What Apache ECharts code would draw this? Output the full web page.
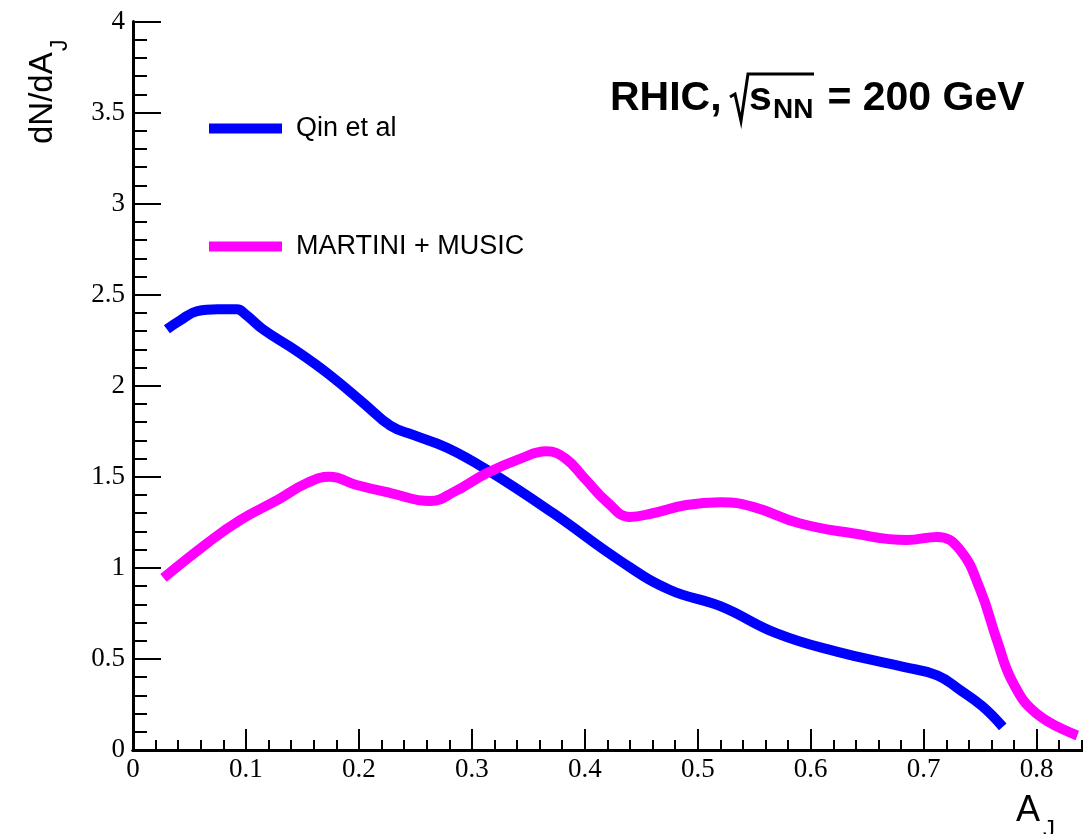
<!DOCTYPE html>
<html>
<head>
<meta charset="utf-8">
<script src="https://cdn.jsdelivr.net/npm/echarts@6/dist/echarts.min.js"></script>
<style>
  html, body { margin: 0; padding: 0; background: #fff; }
  #chart { width: 1083px; height: 834px; }
</style>
</head>
<body>
<div id="chart"></div>
<script>
// Dijet asymmetry distributions, RHIC 200 GeV
const qinX = [0.030, 0.042, 0.057, 0.075, 0.092, 0.100, 0.115, 0.145, 0.174, 0.204, 0.228, 0.248, 0.278, 0.313, 0.372, 0.431, 0.475, 0.520, 0.570, 0.623, 0.682, 0.712, 0.732, 0.752, 0.770];
const qinY = [2.31, 2.36, 2.41, 2.42, 2.42, 2.39, 2.31, 2.19, 2.06, 1.905, 1.78, 1.73, 1.66, 1.54, 1.30, 1.04, 0.88, 0.79, 0.64, 0.54, 0.456, 0.41, 0.33, 0.24, 0.127];

const martiniX = [0.027, 0.066, 0.095, 0.128, 0.154, 0.174, 0.198, 0.228, 0.263, 0.285, 0.313, 0.343, 0.366, 0.383, 0.400, 0.420, 0.440, 0.460, 0.490, 0.520, 0.549, 0.590, 0.637, 0.685, 0.712, 0.732, 0.750, 0.765, 0.779, 0.800, 0.836];
const martiniY = [0.945, 1.137, 1.263, 1.373, 1.466, 1.50, 1.455, 1.411, 1.367, 1.42, 1.52, 1.60, 1.64, 1.60, 1.49, 1.36, 1.28, 1.30, 1.345, 1.36, 1.335, 1.245, 1.19, 1.153, 1.17, 1.10, 0.88, 0.60, 0.37, 0.20, 0.08];

const seriesNames = ['Qin et al', 'MARTINI + MUSIC'];
const xTickLabels = ['0', '0.1', '0.2', '0.3', '0.4', '0.5', '0.6', '0.7', '0.8'];
const yTickLabels = ['0', '0.5', '1', '1.5', '2', '2.5', '3', '3.5', '4'];

const pairs = (xs, ys) => xs.map((x, i) => [x, ys[i]]);

const SERIF = '"Liberation Serif", "DejaVu Serif", serif';
const SANS = '"Liberation Sans", Arial, sans-serif';

const chart = echarts.init(document.getElementById('chart'), null, { renderer: 'canvas' });

const option = {
  backgroundColor: '#ffffff',
  animation: false,
  grid: { left: 133, top: 21.5, width: 1016.6, height: 728.5, containLabel: false, outerBoundsMode: 'none' },
  xAxis: [
    {
      type: 'value', min: 0, max: 0.9, interval: 0.1,
      axisLine: { show: true, onZero: false, lineStyle: { color: '#000', width: 3 } },
      axisTick: { show: true, inside: true, length: 21, lineStyle: { color: '#000', width: 2 } },
      minorTick: { show: true, splitNumber: 5, length: 10, lineStyle: { color: '#000', width: 2 } },
      splitLine: { show: false },
      axisLabel: {
        color: '#000', fontFamily: SERIF, fontSize: 27, margin: 6,
        formatter: v => {
          const k = Math.round(v * 10);
          return Math.abs(v * 10 - k) < 1e-6 && k < xTickLabels.length ? xTickLabels[k] : '';
        }
      }
    },
    {
      type: 'value', min: 0, max: 0.9, position: 'top',
      axisLine: { show: true, lineStyle: { color: '#000', width: 3 } },
      axisTick: { show: false }, axisLabel: { show: false }, splitLine: { show: false }
    }
  ],
  yAxis: {
    type: 'value', min: 0, max: 4, interval: 0.5,
    axisLine: { show: true, lineStyle: { color: '#000', width: 3 } },
    axisTick: { show: true, inside: true, length: 28, lineStyle: { color: '#000', width: 2 } },
    minorTick: { show: true, splitNumber: 5, length: 14, lineStyle: { color: '#000', width: 2 } },
    splitLine: { show: false },
    axisLabel: {
      color: '#000', fontFamily: SERIF, fontSize: 27, margin: 8,
      formatter: v => {
        const k = Math.round(v * 2);
        return Math.abs(v * 2 - k) < 1e-6 && k < yTickLabels.length ? yTickLabels[k] : '';
      }
    }
  },
  legend: {
    data: seriesNames,
    orient: 'vertical', left: 204, top: 108.5,
    icon: 'rect', itemWidth: 73, itemHeight: 10, itemGap: 88,
    textStyle: { color: '#000', fontFamily: SANS, fontSize: 27, lineHeight: 30, padding: [0, 0, 0, 9] }
  },
  series: [
    {
      name: seriesNames[0], type: 'line', data: pairs(qinX, qinY),
      smooth: 0.45, showSymbol: false, symbol: 'none', color: '#0000ff',
      lineStyle: { width: 10, color: '#0000ff', cap: 'butt' }
    },
    {
      name: seriesNames[1], type: 'line', data: pairs(martiniX, martiniY),
      smooth: 0.45, showSymbol: false, symbol: 'none', color: '#ff00ff',
      lineStyle: { width: 10, color: '#ff00ff', cap: 'butt' }
    }
  ],
  graphic: [
    // y-axis title, rotated
    {
      type: 'group', x: 43, y: 144, rotation: Math.PI / 2,
      children: [
        { type: 'text', x: 0, y: 0, style: { text: 'dN/dA', font: '33px ' + SANS, fill: '#000', align: 'left', verticalAlign: 'middle' } },
        { type: 'text', x: 93, y: 18, style: { text: 'J', font: '23px ' + SANS, fill: '#000', align: 'left', verticalAlign: 'middle' } }
      ]
    },
    // x-axis title
    { type: 'text', x: 1016, y: 811, style: { text: 'A', font: '36px ' + SANS, fill: '#000', align: 'left', verticalAlign: 'middle' } },
    { type: 'text', x: 1043, y: 830, style: { text: 'J', font: '24px ' + SANS, fill: '#000', align: 'left', verticalAlign: 'middle' } },
    // RHIC energy label
    { type: 'text', x: 610, y: 99, style: { text: 'RHIC,', font: 'bold 41px ' + SANS, fill: '#000', align: 'left', verticalAlign: 'middle' } },
    { type: 'polyline', shape: { points: [[730, 97], [735, 94], [741, 121], [748, 74], [814, 74]] }, style: { stroke: '#000', lineWidth: 3, fill: null, lineJoin: 'miter' } },
    { type: 'text', x: 749, y: 99, style: { text: 's', font: 'bold 41px ' + SANS, fill: '#000', align: 'left', verticalAlign: 'middle' } },
    { type: 'text', x: 773, y: 110, style: { text: 'NN', font: 'bold 28px ' + SANS, fill: '#000', align: 'left', verticalAlign: 'middle' } },
    { type: 'text', x: 816, y: 99, style: { text: ' = 200 GeV', font: 'bold 41px ' + SANS, fill: '#000', align: 'left', verticalAlign: 'middle' } }
  ]
};

chart.setOption(option);
</script>
</body>
</html>
